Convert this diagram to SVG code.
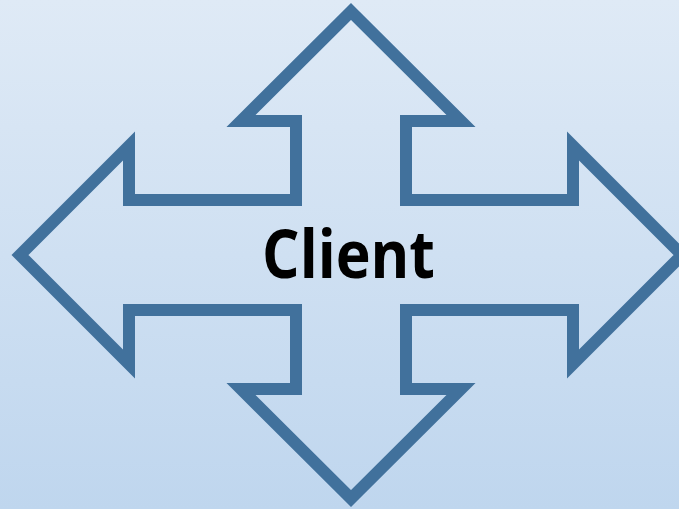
<svg xmlns="http://www.w3.org/2000/svg" width="679" height="509" viewBox="0 0 679 509">
  <defs>
    <linearGradient id="bg" x1="0" y1="0" x2="0" y2="1">
      <stop offset="0" stop-color="#dfeaf6"/>
      <stop offset="1" stop-color="#bfd6ee"/>
    </linearGradient>
  </defs>
  <style>
    .arrow { fill: none; stroke: #41719c; stroke-width: 12; stroke-linejoin: miter; stroke-miterlimit: 10; }
    .label { font-family: "Open Sans", "Liberation Sans", sans-serif; font-weight: bold; font-size: 66px; fill: #000000; }
  </style>
  <rect x="0" y="0" width="679" height="509" fill="url(#bg)"/>
  <g id="quad-arrow">
    <path class="arrow" d="M351,11.5 L461,121 L406,121 L406,200 L573,200 L573,146 L682,255 L573,364 L573,310 L406,310 L406,389 L461,389 L351,498.5 L241,389 L296,389 L296,310 L129,310 L129,364 L20,255 L129,146 L129,200 L296,200 L296,121 L241,121 Z"/>
  </g>
  <g id="client-label">
    <text class="label" x="348.5" y="278" text-anchor="middle" textLength="173" lengthAdjust="spacingAndGlyphs">Client</text>
  </g>
</svg>
